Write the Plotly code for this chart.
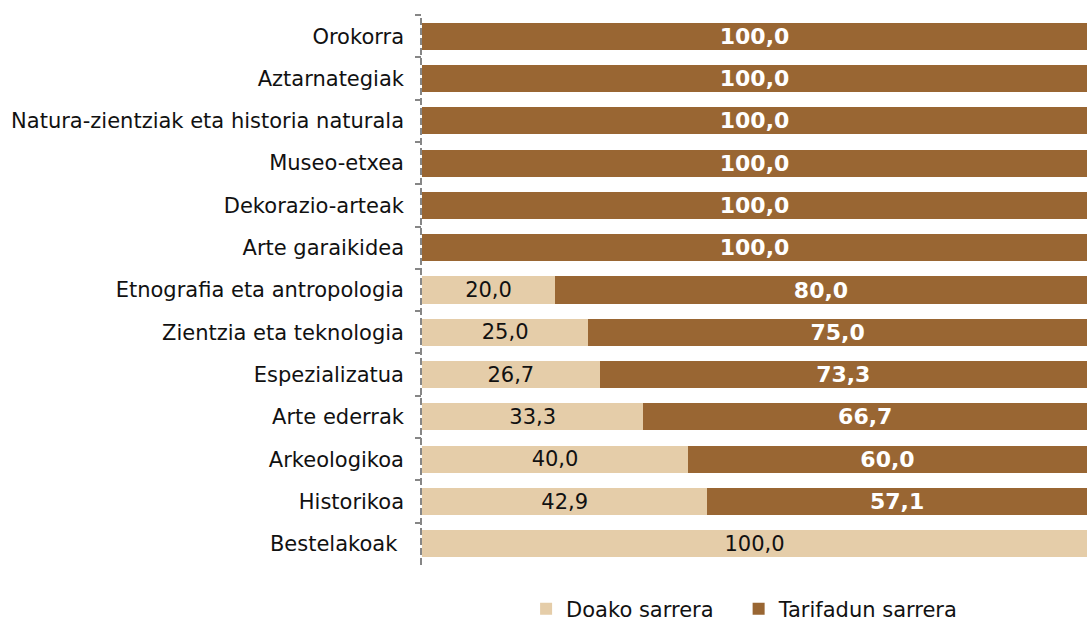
import plotly.graph_objects as go

categories = ["Orokorra", "Aztarnategiak", "Natura-zientziak eta historia naturala",
              "Museo-etxea", "Dekorazio-arteak", "Arte garaikidea",
              "Etnografia eta antropologia", "Zientzia eta teknologia", "Espezializatua",
              "Arte ederrak", "Arkeologikoa", "Historikoa", "Bestelakoak "]
doako = [0, 0, 0, 0, 0, 0, 20.0, 25.0, 26.7, 33.3, 40.0, 42.9, 100.0]
tarifadun = [100.0, 100.0, 100.0, 100.0, 100.0, 100.0, 80.0, 75.0, 73.3, 66.7, 60.0, 57.1, 0]
series_names = ["Doako sarrera\u00a0\u00a0\u00a0", "Tarifadun sarrera"]

FONT = "DejaVu Sans"

def fmt(v):
    return "" if v == 0 else f"{v:.1f}".replace(".", ",")

fig = go.Figure()
fig.add_trace(go.Bar(
    y=categories, x=doako, orientation="h", name=series_names[0],
    marker=dict(color="#E5CDA9", line=dict(width=0)),
    text=[fmt(v) for v in doako], textposition="inside", insidetextanchor="middle",
    textangle=0, constraintext="none",
    textfont=dict(family=FONT, size=21, color="#111111"),
    hoverinfo="x+y",
))
fig.add_trace(go.Bar(
    y=categories, x=tarifadun, orientation="h", name=series_names[1],
    marker=dict(color="#996633", line=dict(width=0)),
    text=["<b>" + fmt(v) + "</b>" if v else "" for v in tarifadun],
    textposition="inside", insidetextanchor="middle",
    textangle=0, constraintext="none",
    textfont=dict(family=FONT, size=22, color="white"),
    hoverinfo="x+y",
))

fig.add_shape(type="line", xref="paper", yref="paper", x0=-0.0015, x1=-0.0015, y0=0, y1=1,
              line=dict(color="#868686", width=2, dash="7px,3px"))

fig.update_layout(
    barmode="stack", bargap=0.36,
    width=1087, height=624,
    margin=dict(l=422, r=0, t=15, b=59, autoexpand=False),
    paper_bgcolor="white", plot_bgcolor="white",
    font=dict(family=FONT, size=21, color="#111111"),
    showlegend=True,
    legend=dict(orientation="h", x=0.685, xref="container", xanchor="center",
                y=0.024, yref="container", yanchor="middle",
                font=dict(size=21), traceorder="normal"),
)
fig.update_xaxes(range=[0, 100], visible=False, fixedrange=True)
fig.update_yaxes(autorange="reversed", showline=False, ticks="outside", tickson="boundaries",
                 ticklen=6, tickwidth=2, tickcolor="#868686", showgrid=False,
                 tickfont=dict(size=21, color="#111111"), ticklabelstandoff=17,
                 automargin=False)

fig.write_html("out.html", config={"displayModeBar": False},
               post_script="document.body.style.margin='0';document.body.style.overflow='hidden';")
